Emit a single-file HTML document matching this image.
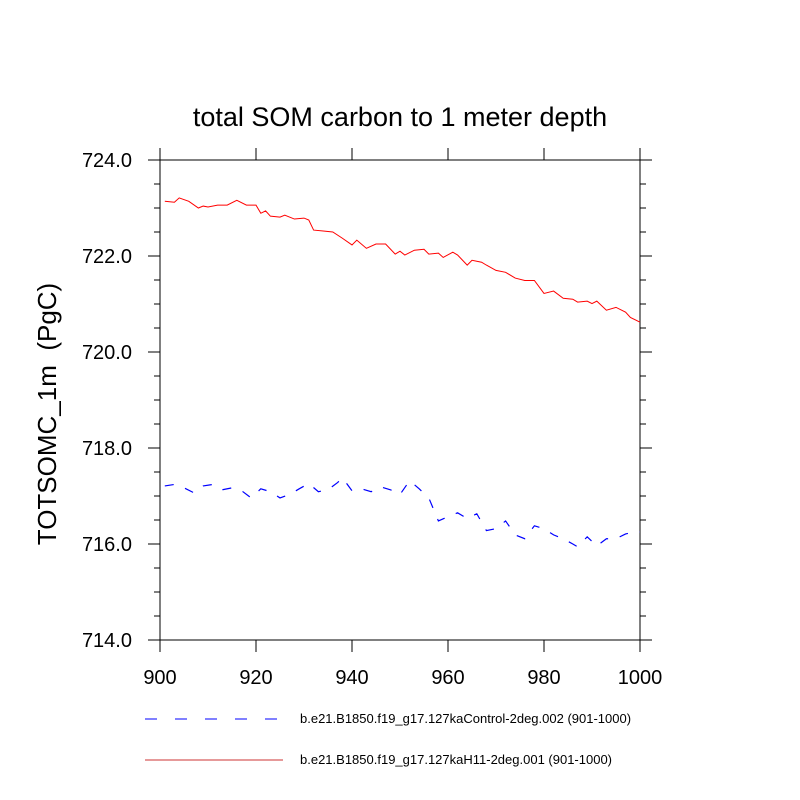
<!DOCTYPE html>
<html><head><meta charset="utf-8"><style>
body{margin:0;background:#fff;}
svg{display:block;font-family:"Liberation Sans",sans-serif;}
</style></head><body>
<svg id="chart" width="800" height="800">
<rect width="800" height="800" fill="#fff"/>
<text x="400" y="126" font-size="27" text-anchor="middle">total SOM carbon to 1 meter depth</text>
<text transform="translate(56,414) rotate(-90)" font-size="26" text-anchor="middle">TOTSOMC_1m&#160;&#160;(PgC)</text>
<g id="axes"></g>
<g id="series"></g>
<g>
<line x1="145" y1="719" x2="283" y2="719" stroke="#00f" stroke-width="1" stroke-dasharray="12 18"/>
<text x="300" y="723" font-size="13">b.e21.B1850.f19_g17.127kaControl-2deg.002 (901-1000)</text>
<line x1="145" y1="760" x2="283" y2="760" stroke="#c33" stroke-width="1"/>
<text x="300" y="764" font-size="13">b.e21.B1850.f19_g17.127kaH11-2deg.001 (901-1000)</text>
</g>
</svg>
<script>
const redYears=[901,903,904,906,908,909,910,912,914,916,918,920,921,922,923,925,926,928,930,931,932,934,936,938,940,941,943,945,947,949,950,951,953,955,956,958,959,961,962,964,965,967,968,970,972,974,976,978,980,982,984,986,987,989,990,991,993,995,997,998,1000];
const redValues=[723.14,723.12,723.21,723.14,723.0,723.04,723.02,723.06,723.06,723.16,723.06,723.06,722.89,722.94,722.83,722.81,722.85,722.77,722.79,722.75,722.54,722.52,722.50,722.37,722.23,722.33,722.16,722.25,722.25,722.04,722.10,722.02,722.12,722.14,722.04,722.06,721.97,722.08,722.02,721.81,721.91,721.87,721.81,721.70,721.66,721.54,721.49,721.49,721.22,721.27,721.12,721.10,721.04,721.06,721.01,721.06,720.87,720.93,720.83,720.72,720.62];
const blueYears=[901,903,905,907,909,911,913,915,917,919,921,923,925,927,929,931,933,935,937,938,940,942,944,946,948,950,952,954,956,958,960,962,964,966,968,970,972,974,976,978,980,982,984,986,987,989,991,993,995,997,999,1000];
const blueValues=[717.21,717.24,717.17,717.07,717.21,717.24,717.13,717.17,717.11,716.96,717.15,717.09,716.96,717.03,717.15,717.26,717.09,717.13,717.28,717.38,717.11,717.15,717.09,717.19,717.13,717.03,717.32,717.15,716.96,716.48,716.57,716.65,716.53,716.63,716.28,716.32,716.48,716.19,716.11,716.38,716.32,716.19,716.11,716.00,715.94,716.15,715.96,716.11,716.11,716.21,716.25,716.25];
const xTicks=[900,920,940,960,980,1000];
const yTicks=[714,716,718,720,722,724];
const X0=160,X1=640,Y0=640,Y1=160;
const xs=v=>X0+(v-900)/100*(X1-X0);
const ys=v=>Y0-(v-714)/10*(Y0-Y1);
const NS="http://www.w3.org/2000/svg";
const axes=document.getElementById('axes'),ser=document.getElementById('series');
function mk(p,tag,attrs){const e=document.createElementNS(NS,tag);for(const k in attrs)e.setAttribute(k,attrs[k]);p.appendChild(e);return e;}
const frame=mk(axes,'rect',{x:X0,y:Y1,width:X1-X0,height:Y0-Y1,fill:'none',stroke:'#000','stroke-width':1});


xTicks.forEach(v=>{const x=xs(v);
 const t1=mk(axes,'line',{x1:x,x2:x,y1:Y0,y2:Y0+12,stroke:'#000'});
 
 
 const t2=mk(axes,'line',{x1:x,x2:x,y1:Y1,y2:Y1-12,stroke:'#000'});
 
 });
for(let v=714;v<=724.001;v+=0.5){const major=Math.abs(v-Math.round(v/2)*2)<1e-6;const L=major?12:6;const y=ys(v);
 const t1=mk(axes,'line',{x1:X0,x2:X0-L,y1:y,y2:y,stroke:'#000'});
 
 
 const t2=mk(axes,'line',{x1:X1,x2:X1+L,y1:y,y2:y,stroke:'#000'});
 
 }
xTicks.forEach(v=>{const t=mk(axes,'text',{x:xs(v),y:Y0+44,'font-size':20,'text-anchor':'middle'});t.textContent=v;
 
 });
yTicks.forEach(v=>{const t=mk(axes,'text',{x:X0-28,y:ys(v)+7,'font-size':20,'text-anchor':'end'});t.textContent=v.toFixed(1);
 
 });
const rp=mk(ser,'polyline',{points:redYears.map((yr,i)=>xs(yr)+','+ys(redValues[i])).join(' '),fill:'none',stroke:'#f00','stroke-width':1});


const bp=mk(ser,'polyline',{points:blueYears.map((yr,i)=>xs(yr)+','+ys(blueValues[i])).join(' '),fill:'none',stroke:'#00f','stroke-width':1.2,'stroke-dasharray':'9 12'});


</script>
</body></html>
